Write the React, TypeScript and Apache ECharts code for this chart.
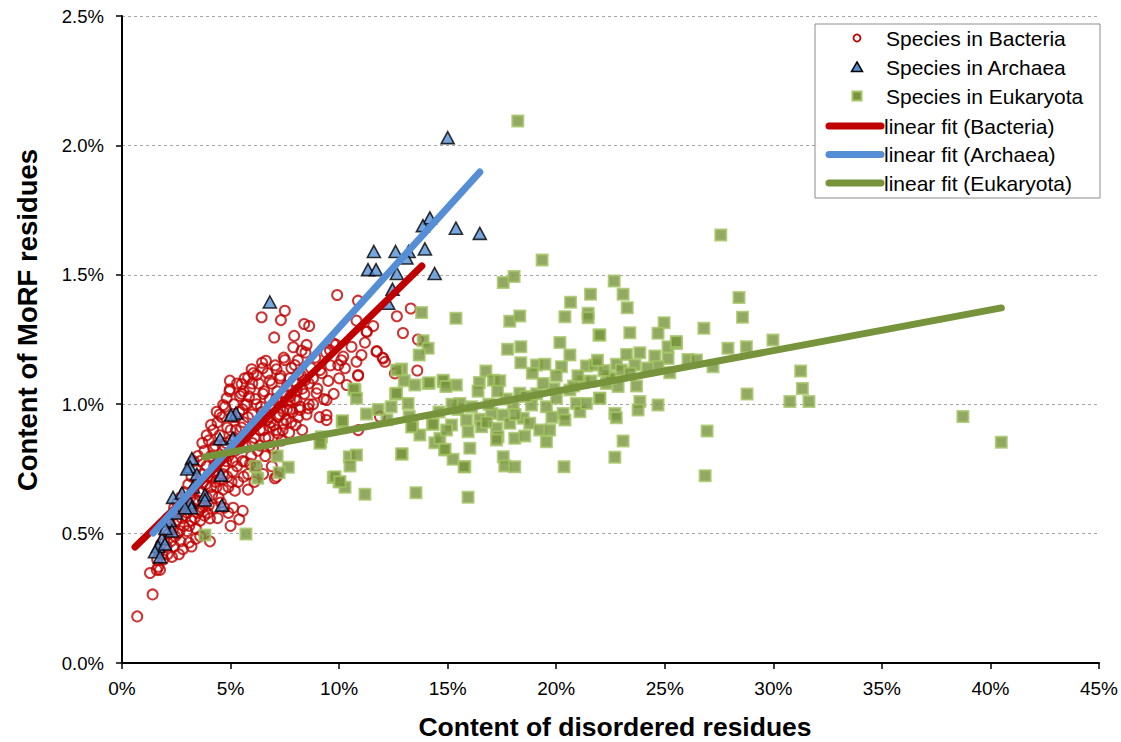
import React, { useEffect, useRef } from "react";
import * as echarts from "echarts";

const xTickLabels = ["0%", "5%", "10%", "15%", "20%", "25%", "30%", "35%", "40%", "45%"];
const yTickLabels = ["0.0%", "0.5%", "1.0%", "1.5%", "2.0%", "2.5%"];
const xTitle = "Content of disordered residues";
const yTitle = "Content of MoRF residues";

const bacteria: number[][] = [
  [0.7, 0.18], [1.41, 0.265], [1.29, 0.348], [1.6, 0.36], [1.67, 0.372], [1.75, 0.36], [1.9, 0.4], [2.1, 0.42], [2.3, 0.41],
  [2.62, 0.42], [2.8, 0.44], [3.08, 0.465], [3.2, 0.45], [3.6, 0.49], [4.05, 0.559], [5.12, 0.6], [5.4, 0.555], [5.56, 0.588],
  [5.2, 0.666], [4.9, 0.58], [5.0, 0.53], [5.66, 0.778], [7.2, 0.887], [7.43, 0.926], [7.12, 0.72],
  [1.62, 0.4], [1.7, 0.43], [1.8, 0.46], [1.85, 0.42], [1.95, 0.48], [2.0, 0.51], [2.05, 0.45], [2.15, 0.5], [2.2, 0.54],
  [2.25, 0.47], [2.3, 0.57], [2.35, 0.52], [2.4, 0.6], [2.45, 0.49], [2.5, 0.55],
  [2.55, 0.62], [2.6, 0.58], [2.65, 0.51], [2.7, 0.64], [2.75, 0.56], [2.8, 0.6], [2.85, 0.53], [2.9, 0.66], [2.95, 0.62],
  [3.0, 0.58], [3.05, 0.69], [3.1, 0.53], [3.15, 0.64], [3.2, 0.72], [3.25, 0.6], [3.3, 0.67], [3.35, 0.56], [3.4, 0.75],
  [3.45, 0.63], [3.5, 0.7],
  [3.55, 0.59], [3.6, 0.78], [3.65, 0.66], [3.7, 0.73], [3.75, 0.62], [3.8, 0.82], [3.85, 0.69], [3.9, 0.76], [3.95, 0.58],
  [4.0, 0.86], [4.05, 0.72], [4.1, 0.8], [4.15, 0.65], [4.2, 0.9], [4.25, 0.76], [4.3, 0.84], [4.35, 0.68], [4.4, 0.93],
  [4.45, 0.79], [4.5, 0.88], [4.36, 0.971], [4.66, 0.997], [4.82, 1.023], [4.97, 1.091], [4.97, 1.058],
  [4.55, 0.62], [4.6, 0.95], [4.65, 0.73], [4.7, 0.84], [4.75, 0.99], [4.8, 0.78], [4.85, 0.91], [4.9, 0.68], [4.95, 1.05],
  [5.0, 0.86], [5.05, 0.95], [5.1, 0.74], [5.15, 1.0], [5.2, 0.82], [5.25, 0.9], [5.3, 1.08], [5.35, 0.7], [5.4, 0.97],
  [5.45, 0.86], [5.5, 1.04], [5.43, 1.032], [5.51, 1.078], [5.66, 0.997],
  [5.55, 0.78], [5.6, 0.93], [5.65, 1.1], [5.7, 0.84], [5.75, 1.0], [5.8, 0.73], [5.85, 0.9], [5.9, 1.06], [5.95, 0.8],
  [6.0, 0.96], [6.05, 1.12], [6.1, 0.87], [6.15, 1.02], [6.2, 0.76], [6.25, 0.93], [6.3, 1.08], [6.35, 0.84], [6.4, 0.99],
  [6.45, 1.16], [6.5, 0.9], [5.81, 1.104], [5.97, 1.135], [6.2, 1.113], [6.48, 1.139], [6.63, 1.168], [6.43, 1.336],
  [6.55, 1.05], [6.6, 0.8], [6.65, 0.96], [6.7, 1.12], [6.75, 0.87], [6.8, 1.02], [6.85, 0.93], [6.9, 1.08], [6.95, 0.83],
  [7.0, 0.99], [7.05, 1.15], [7.1, 0.9], [7.15, 1.05], [7.2, 0.95], [7.3, 1.11], [7.35, 0.86], [7.4, 1.01], [7.45, 1.18],
  [7.5, 1.361], [7.32, 1.325], [7.01, 1.258], [7.12, 1.135], [7.5, 1.171], [6.81, 1.091], [7.27, 1.1], [6.81, 0.913],
  [7.55, 0.94], [7.6, 1.07], [7.7, 0.89], [7.75, 1.03], [7.8, 1.14], [7.85, 0.97], [7.9, 1.09], [8.0, 0.92], [8.05, 1.05],
  [8.1, 1.17], [8.2, 0.99], [8.25, 1.11], [8.3, 0.9], [8.4, 1.04], [8.45, 1.2], [8.5, 0.96], [7.93, 1.264], [7.89, 1.22],
  [8.39, 1.31], [8.62, 1.302], [8.27, 1.207], [7.96, 1.151], [7.73, 1.1], [8.12, 1.119], [8.43, 1.093], [7.73, 1.01],
  [8.2, 0.978], [7.43, 0.971], [7.73, 0.978], [8.04, 1.016], [8.5, 1.229],
  [8.6, 1.08], [8.7, 1.14], [8.8, 1.0], [8.9, 1.18], [9.0, 1.06], [9.1, 0.95], [9.2, 1.12], [9.3, 1.02], [9.4, 1.2],
  [9.5, 1.09], [9.6, 1.15], [9.75, 1.04], [9.85, 1.23], [10.0, 1.1], [10.1, 1.17], [8.96, 1.042], [8.58, 0.984],
  [9.42, 1.016], [9.42, 0.958], [9.42, 0.939], [9.12, 1.132], [9.58, 1.209], [9.73, 1.235], [9.96, 1.151],
  [9.91, 1.422], [10.8, 1.323], [11.26, 1.281], [11.57, 1.302], [11.19, 1.238], [11.72, 1.203], [12.03, 1.177],
  [12.11, 1.164], [10.19, 1.184], [10.57, 1.222], [10.8, 1.164], [11.03, 1.19], [10.27, 1.139], [10.88, 1.113],
  [10.35, 1.074], [10.87, 1.4], [12.57, 1.119], [11.88, 0.952], [10.88, 0.9], [13.3, 1.37], [12.66, 1.34],
  [12.94, 1.275], [13.63, 1.25], [13.6, 1.13], [12.0, 1.18], [11.74, 1.205], [11.28, 1.28], [10.87, 1.11], [7.04, 0.714],
  [2.1, 0.56], [2.4, 0.45], [2.55, 0.5], [2.7, 0.47], [2.85, 0.57], [3.0, 0.51], [3.1, 0.6], [3.2, 0.55], [3.3, 0.62],
  [3.4, 0.52], [3.5, 0.58], [3.55, 0.66], [3.6, 0.55], [3.7, 0.6], [3.75, 0.7], [3.8, 0.57], [3.9, 0.64], [3.95, 0.72],
  [4.0, 0.61], [4.1, 0.68], [4.2, 0.74], [4.25, 0.6], [4.3, 0.7], [4.4, 0.77], [4.45, 0.64], [4.5, 0.71], [4.6, 0.8],
  [4.65, 0.67], [4.7, 0.76], [4.8, 0.85], [4.85, 0.72], [4.9, 0.8], [5.0, 0.9], [5.05, 0.7], [5.1, 0.78], [5.2, 0.87],
  [5.25, 0.95], [5.3, 0.76], [5.4, 0.83], [5.5, 0.91], [5.55, 0.98], [5.6, 0.72], [5.7, 0.88], [5.8, 0.95], [5.85, 1.03],
  [5.9, 0.77], [6.0, 0.85], [6.1, 0.92], [6.2, 1.0], [6.25, 0.82], [6.35, 0.9], [6.45, 0.97], [6.5, 1.04], [6.6, 0.87],
  [6.7, 0.94], [6.8, 0.84], [6.9, 0.98], [7.0, 0.92], [7.1, 1.02], [7.25, 0.96], [7.4, 0.9], [7.5, 1.04], [7.6, 0.98],
  [7.8, 0.93], [7.95, 1.02], [8.1, 0.95], [8.3, 1.06], [8.6, 1.0], [8.8, 1.1], [3.3, 0.78], [3.5, 0.8], [3.9, 0.88],
  [4.1, 0.92], [4.5, 0.96], [4.2, 0.83], [3.7, 0.85], [5.6, 1.05], [6.0, 1.08], [4.05, 0.47], [3.4, 0.48], [4.4, 0.56],
  [4.7, 0.6], [5.8, 0.67], [6.1, 0.7], [6.5, 0.73], [6.9, 0.76],
];

const archaea: number[][] = [
  [6.81, 1.395], [5.25, 0.966], [5.02, 0.958], [4.51, 0.866], [5.11, 0.87], [3.22, 0.79], [3.13, 0.757], [4.56, 0.726],
  [3.82, 0.65], [3.82, 0.63], [4.6, 0.61], [3.13, 0.62], [3.2, 0.6], [2.35, 0.64], [2.76, 0.657], [3.27, 0.68],
  [2.2, 0.55], [2.3, 0.51], [1.84, 0.48], [1.66, 0.45], [1.52, 0.43], [1.75, 0.41], [1.98, 0.46], [3.45, 0.73],
  [2.5, 0.58], [2.0, 0.52], [2.9, 0.6], [3.0, 0.75],
  [15.0, 2.03], [14.18, 1.72], [13.86, 1.69], [15.38, 1.68], [16.48, 1.66], [11.6, 1.59], [12.6, 1.59], [13.2, 1.59],
  [13.95, 1.6], [11.33, 1.52], [11.7, 1.52], [12.66, 1.505], [13.1, 1.565], [14.4, 1.505], [12.46, 1.444], [12.26, 1.39],
];

const eukaryota: number[][] = [
  [3.82, 0.495], [5.71, 0.498], [6.14, 0.76], [6.25, 0.714], [7.15, 0.8], [7.66, 0.756], [7.24, 0.735], [9.15, 0.855],
  [9.19, 0.874], [9.12, 0.849], [10.14, 0.932], [10.73, 1.055], [10.68, 1.059], [10.8, 1.023], [11.26, 0.962],
  [10.47, 0.797], [10.8, 0.804], [10.5, 0.761], [9.73, 0.717], [10.0, 0.7], [10.27, 0.679], [11.19, 0.652],
  [13.54, 0.658], [12.9, 0.808], [13.8, 1.354], [15.38, 1.332], [13.87, 1.245], [14.1, 1.216], [13.69, 1.19],
  [12.88, 1.136], [13.0, 1.091], [13.49, 1.074], [14.1, 1.08], [14.8, 1.087], [15.4, 1.074], [12.6, 1.039],
  [12.65, 1.132], [13.18, 1.003], [13.38, 0.913], [13.72, 0.881], [14.3, 0.923], [15.18, 0.92], [14.41, 0.851],
  [14.87, 0.823], [15.25, 0.787], [13.23, 0.952], [15.48, 0.98],
  [19.35, 1.557], [17.56, 1.47], [18.06, 1.493], [22.67, 1.476], [23.08, 1.425], [23.27, 1.373], [21.58, 1.425],
  [20.66, 1.394], [20.4, 1.338], [21.47, 1.351], [21.47, 1.334], [17.86, 1.321], [18.32, 1.341], [23.39, 1.276],
  [21.97, 1.267], [24.97, 1.315], [24.69, 1.274], [17.76, 1.212], [18.37, 1.222], [18.37, 1.16], [20.17, 1.238],
  [20.63, 1.19], [19.09, 1.151], [19.48, 1.154], [20.24, 1.145], [21.39, 1.148], [21.78, 1.151], [22.78, 1.154],
  [23.24, 1.192], [23.85, 1.199], [24.54, 1.186], [25.15, 1.222], [25.15, 1.177], [23.62, 1.151], [23.0, 1.132],
  [14.15, 1.083], [14.79, 1.093], [14.92, 1.068], [16.46, 1.084], [16.76, 1.128], [17.1, 1.093], [17.4, 1.091],
  [12.65, 1.042], [10.16, 0.936], [13.34, 0.913], [14.33, 0.923], [14.64, 0.868], [14.95, 0.9], [15.56, 1.003],
  [15.87, 0.939], [15.94, 0.894], [16.48, 0.942], [16.56, 0.913], [17.02, 0.964], [17.25, 0.907], [17.32, 0.874],
  [17.56, 0.958], [17.86, 0.926], [18.02, 1.0], [18.32, 1.042], [18.48, 0.946], [18.09, 0.868], [18.55, 0.877],
  [18.78, 0.926], [18.86, 0.997], [19.24, 0.9], [19.55, 0.99], [19.7, 0.9], [19.55, 0.855], [20.01, 1.023],
  [20.32, 0.964], [20.4, 0.939], [20.93, 1.003], [21.09, 0.971], [21.39, 1.003], [22.0, 1.023], [20.63, 1.055],
  [21.24, 1.087], [22.31, 1.08], [22.85, 1.068], [23.7, 1.07], [23.85, 1.01], [23.77, 0.978], [24.69, 0.997],
  [22.7, 0.964], [22.77, 0.948], [23.08, 0.858], [22.7, 0.795], [20.36, 0.758], [17.56, 0.797], [17.63, 0.761],
  [18.09, 0.758], [16.02, 0.83], [15.79, 0.758], [15.94, 0.64], [12.88, 0.808], [9.81, 0.72], [10.04, 0.7],
  [14.87, 0.826], [15.76, 0.758], [17.25, 0.862],
  [27.58, 1.654], [28.42, 1.412], [28.58, 1.336], [26.8, 1.293], [25.54, 1.235], [27.91, 1.216], [28.76, 1.222],
  [29.98, 1.248], [26.07, 1.173], [26.46, 1.171], [27.22, 1.145], [22.01, 1.267], [24.69, 1.145], [25.23, 1.122],
  [22.39, 1.106], [22.01, 1.023], [28.79, 1.039], [31.26, 1.128], [31.34, 1.061], [30.76, 1.01], [31.64, 1.01],
  [38.73, 0.952], [40.5, 0.853], [26.95, 0.896], [26.86, 0.724], [18.23, 2.094], [25.53, 1.242],
  [16.1, 0.99], [16.9, 1.0], [17.7, 1.02], [18.6, 1.03], [19.1, 1.04], [19.9, 1.06], [20.8, 1.07], [21.6, 1.09],
  [22.5, 1.1], [16.4, 1.05], [19.4, 1.08], [21.0, 1.11], [18.9, 1.12], [17.3, 1.05], [15.2, 1.0], [14.6, 0.97],
  [22.2, 1.13], [24.2, 1.14], [23.4, 1.12], [21.9, 1.17], [20.0, 1.11], [19.8, 0.95], [18.1, 0.96], [16.8, 0.93],
  [12.2, 0.94], [11.8, 0.98], [12.4, 0.99],
];

const fitBacteria: number[][] = [[0.6, 0.448], [13.81, 1.534]];
const fitArchaea: number[][] = [[1.43, 0.502], [16.48, 1.897]];
const fitEukaryota: number[][] = [[3.82, 0.796], [40.5, 1.372]];

const legendNames = [
  "Species in Bacteria",
  "Species in Archaea",
  "Species in Eukaryota",
  "linear fit (Bacteria)",
  "linear fit (Archaea)",
  "linear fit (Eukaryota)",
];

const RED = "#C00000";
const BLUE = "#558ED5";
const GREEN = "#77933C";
const GREEN_LIGHT = "#A4C465";
const FONT = "Arial, 'Liberation Sans', sans-serif";

export default function App() {
  const ref = useRef<HTMLDivElement>(null);
  useEffect(() => {
    const chart = echarts.init(ref.current!, null, { renderer: "svg" });
    const lx = 815, ly = 24, lw = 285, lh = 174;
    const rowY = [38, 67, 96, 126, 154.5, 183];
    const symX = 857, textX = 886;
    const graphics: any[] = [
      { type: "rect", shape: { x: lx, y: ly, width: lw, height: lh }, style: { fill: "#fff", stroke: "#8c8c8c", lineWidth: 1 }, z: 10 },
      { type: "circle", shape: { cx: symX, cy: rowY[0], r: 3.5 }, style: { fill: "#fff", stroke: RED, lineWidth: 1.8 }, z: 11 },
      { type: "polygon", shape: { points: [[symX, rowY[1] - 5], [symX + 5.5, rowY[1] + 4.5], [symX - 5.5, rowY[1] + 4.5]] }, style: { fill: BLUE, stroke: "#000", lineWidth: 1.5 }, z: 11 },
      { type: "rect", shape: { x: symX - 4.5, y: rowY[2] - 4.5, width: 9, height: 9 }, style: { fill: GREEN, stroke: GREEN_LIGHT, lineWidth: 2 }, z: 11 },
      { type: "line", shape: { x1: 829, y1: rowY[3], x2: 881, y2: rowY[3] }, style: { stroke: RED, lineWidth: 7, lineCap: "round" }, z: 11 },
      { type: "line", shape: { x1: 829, y1: rowY[4], x2: 881, y2: rowY[4] }, style: { stroke: BLUE, lineWidth: 7, lineCap: "round" }, z: 11 },
      { type: "line", shape: { x1: 829, y1: rowY[5], x2: 881, y2: rowY[5] }, style: { stroke: GREEN, lineWidth: 7, lineCap: "round" }, z: 11 },
      {
        type: "text", x: 615, y: 727,
        style: { text: xTitle, fill: "#000", font: `bold 26.5px ${FONT}`, textAlign: "center", textVerticalAlign: "middle" },
      },
      {
        type: "text", x: 27, y: 320, rotation: Math.PI / 2,
        style: { text: yTitle, fill: "#000", font: `bold 27.5px ${FONT}`, textAlign: "center", textVerticalAlign: "middle" },
      },
    ];
    legendNames.forEach((n, i) => {
      graphics.push({
        type: "text",
        x: i < 3 ? textX : 884,
        y: rowY[i],
        style: { text: n, fill: "#000", font: `21px ${FONT}`, textVerticalAlign: "middle", textAlign: "left" },
        z: 12,
      });
    });

    chart.setOption({
      animation: false,
      backgroundColor: "#fff",
      grid: { left: 122, right: 22, top: 16, bottom: 79, containLabel: false, outerBoundsMode: "none" },
      xAxis: {
        type: "value",
        min: 0,
        max: 45,
        interval: 5,
        axisLine: { show: true, onZero: false, lineStyle: { color: "#000", width: 2 } },
        axisTick: { show: true, inside: false, length: 6, lineStyle: { color: "#000", width: 1.5 } },
        axisLabel: {
          formatter: (v: number) => xTickLabels[Math.round(v / 5)] ?? "",
          fontFamily: FONT,
          fontSize: 19,
          color: "#000",
          margin: 16,
        },
        splitLine: { show: false },
      },
      yAxis: {
        type: "value",
        min: 0,
        max: 2.5,
        interval: 0.5,
        axisLine: { show: true, onZero: false, lineStyle: { color: "#000", width: 2 } },
        axisTick: { show: true, inside: false, length: 6, lineStyle: { color: "#000", width: 1.5 } },
        axisLabel: {
          formatter: (v: number) => yTickLabels[Math.round(v / 0.5)] ?? "",
          fontFamily: FONT,
          fontSize: 18.5,
          color: "#000",
          margin: 18,
        },
        splitLine: { show: true, lineStyle: { color: "#a6a6a6", width: 1, type: [3, 3] } },
      },
      series: [
        {
          name: legendNames[0],
          type: "scatter",
          data: bacteria,
          symbol: "circle",
          symbolSize: 10,
          itemStyle: { color: "rgba(255,255,255,0)", borderColor: RED, borderWidth: 2 },
        },
        {
          name: legendNames[1],
          type: "scatter",
          data: archaea,
          symbol: "triangle",
          symbolSize: [13, 12],
          itemStyle: { color: BLUE, borderColor: "#000", borderWidth: 1.6 },
        },
        {
          name: legendNames[2],
          type: "scatter",
          data: eukaryota,
          symbol: "rect",
          symbolSize: 11,
          itemStyle: { color: GREEN, borderColor: GREEN_LIGHT, borderWidth: 2 },
        },
        {
          name: legendNames[3],
          type: "line",
          data: fitBacteria,
          symbol: "none",
          lineStyle: { color: RED, width: 7, cap: "round" },
        },
        {
          name: legendNames[4],
          type: "line",
          data: fitArchaea,
          symbol: "none",
          lineStyle: { color: BLUE, width: 7, cap: "round" },
        },
        {
          name: legendNames[5],
          type: "line",
          data: fitEukaryota,
          symbol: "none",
          lineStyle: { color: GREEN, width: 7, cap: "round" },
        },
      ],
      graphic: graphics,
    });
    return () => chart.dispose();
  }, []);
  return (
    <div
      ref={ref}
      style={{ position: "fixed", left: 0, top: 0, width: 1121, height: 742, background: "#fff" }}
    />
  );
}
